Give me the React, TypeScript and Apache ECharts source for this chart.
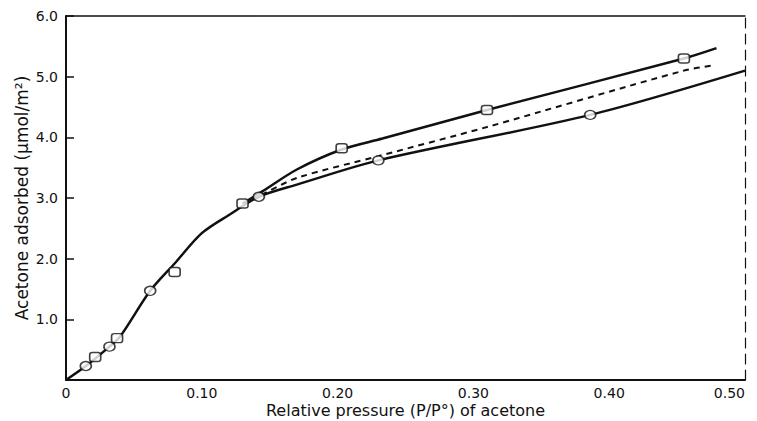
import React, { useEffect, useRef } from "react";
import * as echarts from "echarts";

// Curve traced through the adsorption branch (shared low-pressure part included)
const adsorptionCurve: [number, number][] = [
  [0, 0], [0.0146, 0.23], [0.032, 0.55], [0.04, 0.72], [0.062, 1.47], [0.08, 1.92],
  [0.1, 2.42], [0.12, 2.72], [0.142, 3.02], [0.17, 3.22], [0.23, 3.62], [0.386, 4.37], [0.5, 5.1],
];
// Desorption branch
const desorptionCurve: [number, number][] = [
  [0.13, 2.91], [0.144, 3.1], [0.17, 3.47], [0.203, 3.8], [0.233, 3.98], [0.31, 4.45], [0.455, 5.3], [0.479, 5.47],
];
// Dashed curve
const dashedCurve: [number, number][] = [
  [0.144, 3.05], [0.17, 3.33], [0.23, 3.69], [0.31, 4.17], [0.455, 5.1], [0.478, 5.19],
];
// Measured points
const circlePoints: [number, number][] = [
  [0.0146, 0.23], [0.032, 0.55], [0.062, 1.47], [0.142, 3.02], [0.23, 3.62], [0.386, 4.37], [0.501, 5.1],
];
const squarePoints: [number, number][] = [
  [0.0215, 0.38], [0.0376, 0.69], [0.08, 1.78], [0.13, 2.91], [0.203, 3.82], [0.31, 4.45], [0.455, 5.3],
];
const xTicks = [0, 0.1, 0.2, 0.3, 0.4, 0.5];
const xTickLabels = ["0", "0.10", "0.20", "0.30", "0.40", "0.50"];
const yTickLabels = ["", "1.0", "2.0", "3.0", "4.0", "5.0", "6.0"];

const FONT = "DejaVu Sans";

export default function App() {
  const ref = useRef<HTMLDivElement>(null);
  useEffect(() => {
    if (!ref.current) return;
    const chart = echarts.init(ref.current, null, { renderer: "svg" });
    const lbl = { color: "#111", fontFamily: FONT, fontSize: 14 };
    chart.setOption({
      animation: false,
      backgroundColor: "#fff",
      grid: { left: 66, right: 12, top: 16, bottom: 41, containLabel: false, outerBoundsMode: "none" },
      xAxis: [
        {
          type: "value", min: 0, max: 0.5, interval: 0.1,
          axisLine: { lineStyle: { color: "#111", width: 2 } },
          axisTick: { show: false },
          splitLine: { show: false },
          axisLabel: {
            ...lbl, margin: 6, lineHeight: 14, alignMaxLabel: "right",
            formatter: (v: number) => {
              const i = xTicks.findIndex((t) => Math.abs(t - v) < 1e-6);
              return i >= 0 ? xTickLabels[i] : "";
            },
          },
          name: "Relative pressure (P/P°) of acetone",
          nameLocation: "middle", nameGap: 22, nameMoveOverlap: false,
          nameTextStyle: { ...lbl, fontSize: 16, lineHeight: 16 },
        },
        {
          type: "value", min: 0, max: 0.5, position: "top",
          axisLine: { show: true, onZero: false, lineStyle: { color: "#111", width: 1.5 } },
          axisTick: { show: false }, axisLabel: { show: false }, splitLine: { show: false },
        },
      ],
      yAxis: [
        {
          type: "value", min: 0, max: 6, interval: 1,
          axisLine: { show: true, lineStyle: { color: "#111", width: 2 } },
          axisTick: { show: true, inside: true, length: 8, lineStyle: { color: "#111", width: 1.5 } },
          splitLine: { show: false },
          axisLabel: { ...lbl, margin: 8, formatter: (v: number) => yTickLabels[Math.round(v)] ?? "" },
          name: "Acetone adsorbed (μmol/m²)",
          nameLocation: "middle", nameGap: 36, nameMoveOverlap: false,
          nameTextStyle: { ...lbl, fontSize: 17 },
        },
        {
          type: "value", min: 0, max: 6, position: "right",
          axisLine: { show: true, onZero: false, lineStyle: { color: "#111", width: 1.2, type: [10, 6] } },
          axisTick: { show: false }, axisLabel: { show: false }, splitLine: { show: false },
        },
      ],
      series: [
        {
          type: "line", data: adsorptionCurve, smooth: 0.3, showSymbol: false,
          lineStyle: { color: "#111", width: 2.5 }, z: 2,
        },
        {
          type: "line", data: desorptionCurve, smooth: 0.3, showSymbol: false,
          lineStyle: { color: "#111", width: 2.5 }, z: 2,
        },
        {
          type: "line", data: dashedCurve, smooth: 0.3, showSymbol: false,
          lineStyle: { color: "#111", width: 2, type: [6, 5] }, z: 2,
        },
        {
          type: "scatter", data: circlePoints, symbol: "circle", symbolSize: [11, 9],
          itemStyle: { color: "#fff", borderColor: "#111", borderWidth: 1.5 }, z: 5,
        },
        {
          type: "scatter", data: squarePoints, symbol: "roundRect", symbolSize: [11, 9],
          itemStyle: { color: "#fff", borderColor: "#111", borderWidth: 1.5 }, z: 5,
        },
      ],
    });
    return () => chart.dispose();
  }, []);
  return (
    <div
      ref={ref}
      style={{ position: "absolute", left: 0, top: 0, width: 757, height: 421 }}
    />
  );
}
